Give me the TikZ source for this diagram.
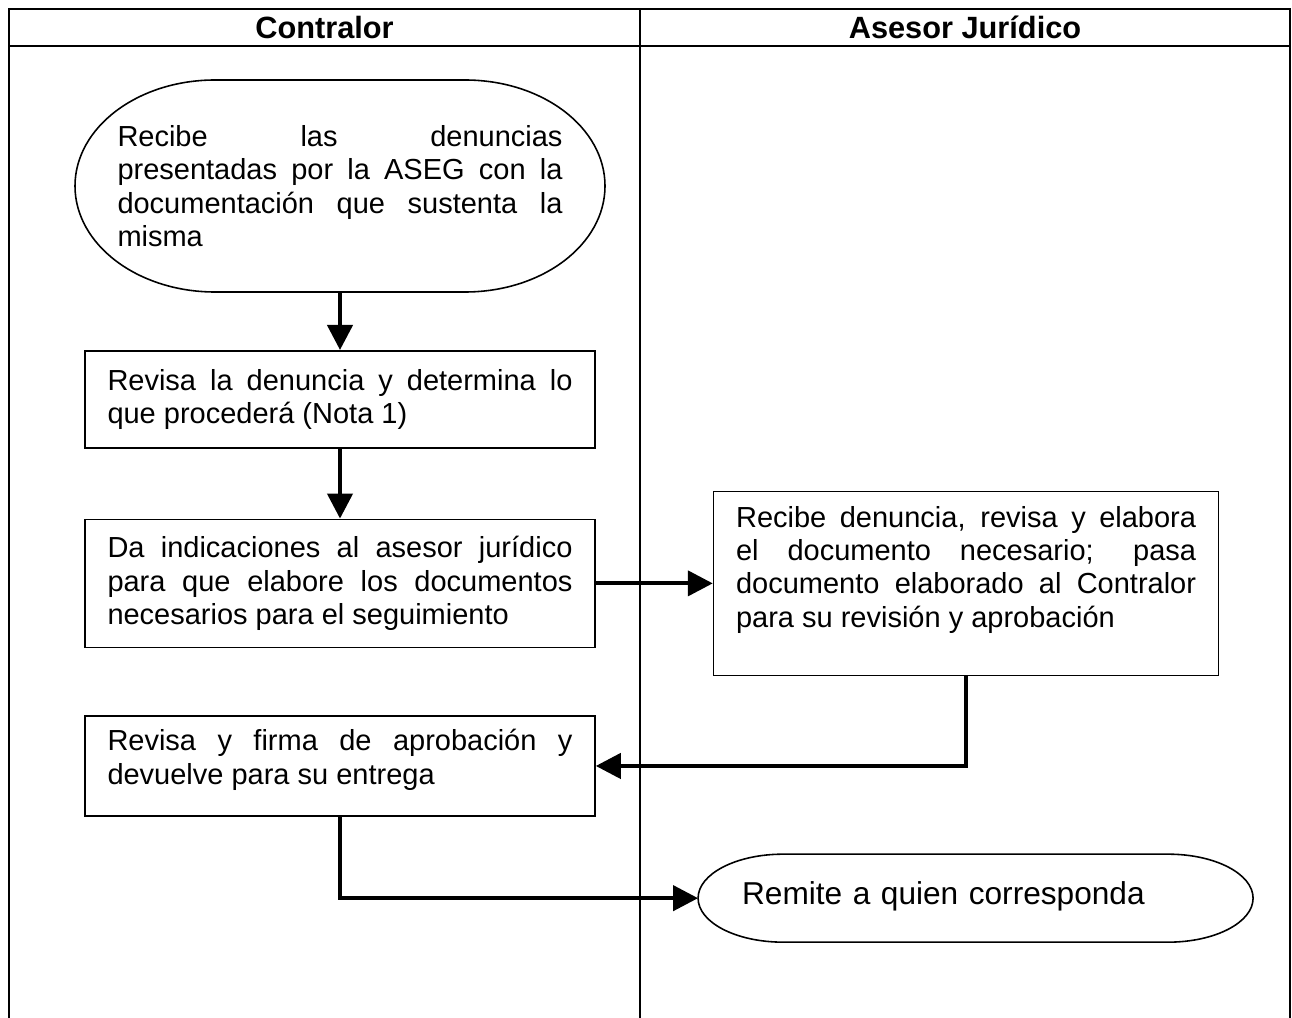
\documentclass[tikz,border=0pt]{standalone}
\usepackage{fontspec}
\setmainfont{Liberation Sans}
\usepackage{tikz}
\usetikzlibrary{arrows.meta}
\usetikzlibrary{calc,positioning}
\tikzset{%
  >={Triangle[width=5mm,length=5mm]},
  % Specifications for style of nodes:
  base/.style = {rectangle, draw=black, line width=0.9pt,
    inner xsep=0.45cm, inner ysep=0.2cm,
    align=justify, font=\fontsize{16.5}{19}\selectfont},
  startEnd/.style = {base, draw=none, outer sep=0pt},
  task/.style = {base, minimum width=10.2cm, text width=9.3cm},
  header/.style = {font=\fontsize{17.5}{20}\selectfont\bfseries},
  lane/.style = {line width=1pt},
  outline/.style = {line width=0.9pt},
  link/.style = {->, line width=2.4pt},
}

\begin{document}
\begin{tikzpicture}[every node/.style={fill=white}]
        \useasboundingbox (0,0) rectangle (25.84,-20.36);
        % Lanes of the table
        \draw[lane, line width=1.5pt] (0.18,-20.36) -- (0.18,-0.18) -- (25.8,-0.18) -- (25.8,-20.36);
        \draw[lane, line width=1.5pt] (0.18,-0.92) -- (25.8,-0.92);
        \draw[lane] (12.8,-0.18) -- (12.8,-20.36);
        \node(Contr)[header] at (6.49,-0.55) {Contralor};
        \node(Asesor)[header] at (19.3,-0.55) {Asesor Jurídico};
        % Specification of nodes (position, etc.)
        \node(Recibe)[startEnd, minimum width=10.6cm, minimum height=4.24cm, text width=8.9cm] at (6.8,-3.72) {Recibe las denuncias\linebreak presentadas por la ASEG con la\linebreak documentación que sustenta la\linebreak misma};
        \node(Revisa)[task, below=1.16cm of Recibe, minimum height=1.94cm]{Revisa la denuncia y determina lo\linebreak que procederá (Nota 1)};
        \node(Indica)[task, below=1.4cm of Revisa, minimum height=2.56cm]{Da indicaciones al asesor jurídico\linebreak para que elabore los documentos\linebreak necesarios para el seguimiento};
        \node(Elabora)[task, right=2.34cm of Indica, minimum width=10.08cm, text width=9.2cm, minimum height=3.68cm]{Recibe denuncia, revisa y elabora\linebreak el documento necesario; pasa\linebreak documento elaborado al Contralor\linebreak para su revisión y aprobación\par\null};
        \node(Firma)[task, below=1.34cm of Indica, minimum height=2.0cm]{Revisa y firma de aprobación y\linebreak devuelve para su entrega\par\vspace{-0.3cm}\null};
        \node(Remite)[startEnd, below=3.56cm of Elabora, xshift=0.19cm, font=\fontsize{18}{21}\selectfont,
          minimum width=11.1cm, minimum height=1.76cm, inner xsep=0.88cm, text width=9.34cm, text depth=0.2cm, align=left]{Remite a quien corresponda};
        % Outlines of the terminal shapes
        \draw[outline] ($(Recibe.north west)+(2.8,0)$) -- ($(Recibe.north east)+(-2.8,0)$)
          arc[start angle=90, end angle=-90, x radius=2.8cm, y radius=2.12cm]
          -- ($(Recibe.south west)+(2.8,0)$)
          arc[start angle=270, end angle=90, x radius=2.8cm, y radius=2.12cm] -- cycle;
        \draw[outline] ($(Remite.north west)+(1.7,0)$) -- ($(Remite.north east)+(-1.7,0)$)
          arc[start angle=90, end angle=-90, x radius=1.7cm, y radius=0.88cm]
          -- ($(Remite.south west)+(1.7,0)$)
          arc[start angle=270, end angle=90, x radius=1.7cm, y radius=0.88cm] -- cycle;
        \draw[link](Recibe) -- (Revisa);
        \draw[link](Revisa) -- (Indica);
        \draw[link](Indica.east) -- (Indica.east -| Elabora.west);
        \draw[link](Elabora.south) |- (Firma.east);
        \draw[link](Firma.south) |- (Remite.west);
    \end{tikzpicture}
\end{document}
